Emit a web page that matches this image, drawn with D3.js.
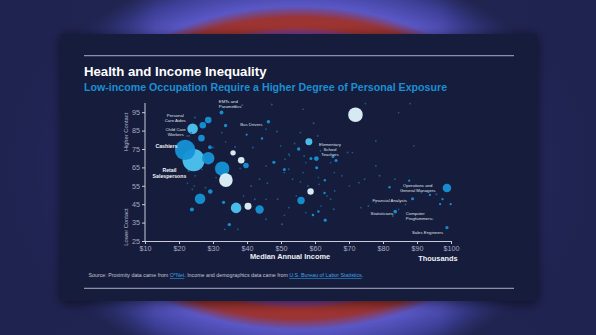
<!DOCTYPE html>
<html><head><meta charset="utf-8">
<script src="https://cdn.jsdelivr.net/npm/d3@7"></script>
<style>html,body{margin:0;padding:0;background:#1f2352;overflow:hidden}svg{display:block}</style>
</head><body>
<script>
// ---------- data ----------
const income = [21.8,24.3,28.6,32.7,33.8,71.9,24.0,28.6,27.0,26.6,32.5,33.7,29.1,35.9,38.3,39.7,26.2,29.2,23.8,36.8,40.3,43.7,34.8,33.1,46.3,58.2,55.2,60.4,58.8,60.5,47.9,51.0,65.3,66.2,58.7,55.9,98.8,88.7,83.6,98.8,81.9,62.9,62.8,63.0,59.4,61.0,44.4,39.9,87.7,93.8,97.5,99.9,96.8,
 24.7,23.0,22.4,23.6,22.8,22.5,23.9,24.5,32.6,36.5,33.7,30.0,30.9,27.8,26.7,24.8,38.6,36.2,41.7,45.6,48.8,49.9,51.2,52.3,54.0,55.7,56.5,59.6,60.8,61.6,56.8,57.3,56.5,55.7,52.3,53.4,51.0,45.6,46.0,43.7,41.2,39.0,42.3,45.6,49.0,51.0,50.3,54.5,57.9,61.0,61.2,63.5,64.6,65.5,61.8,52.3,57.3,64.6,65.7,67.9,70.1,72.9,74.6,77.9,79.0,83.5,84.6,88.0,74.8,47.3,91.3,95.7,86.6,84.6,82.9,89.6,94.6,73.5,75.7,77.9,69.6,71.0,77.9,89.1,37.3,33.4,45.6,52.5,38.0,65.8];
const contact = [74.5,69.0,70.0,64.3,58.1,93.6,86.0,90.7,87.9,80.9,94.8,87.8,76.0,72.9,68.9,66.0,48.0,51.9,42.1,43.0,43.9,42.1,33.9,46.0,89.8,79.0,75.0,69.8,69.8,64.8,67.8,63.8,70.9,68.8,51.9,47.0,53.8,48.0,41.0,32.3,54.2,58.0,51.1,36.3,39.1,41.0,80.7,82.8,57.8,50.0,47.7,45.0,45.0,
 92.1,82.1,82.1,83.9,63.1,56.4,53.1,54.9,83.9,76.1,78.9,75.8,59.5,54.0,64.0,60.4,98.8,98.4,75.8,85.8,84.5,76.7,69.4,72.2,78.0,83.9,96.6,89.0,82.1,74.0,71.2,67.6,62.2,57.1,64.0,58.6,62.2,65.8,56.4,58.6,54.9,49.5,47.7,47.7,47.7,39.0,34.1,49.5,54.9,59.5,55.8,49.5,47.7,42.2,44.0,43.1,40.4,67.6,62.2,60.4,54.9,56.7,58.6,65.8,60.4,58.6,94.8,99.7,99.7,99.2,51.3,50.4,44.9,42.2,38.6,37.7,36.8,43.1,44.0,45.9,73.1,73.1,79.4,76.7,31.3,31.3,36.8,71.4,64.5,52.2];
// employment, thousands
const workers = [3700,4400,1360,1835,1640,1890,994,385,385,385,142,100,120,258,385,277,994,187,142,994,434,624,102,90,110,434,100,200,80,90,90,80,80,80,360,485,655,80,120,90,50,50,50,90,60,60,50,40,45,45,45,45,45,
 35,30,25,30,35,25,30,25,35,30,25,30,25,30,25,30,35,25,30,25,30,25,30,25,30,35,25,35,30,25,30,25,30,25,30,25,30,25,30,25,30,25,30,25,30,25,35,25,30,25,30,25,30,35,25,30,25,30,25,30,25,30,25,30,35,30,25,30,25,30,25,35,30,25,30,25,30,25,30,25,30,25,30,25,30,25,30,25,25,30];
// colour group: 0 faint, 1 blue, 2 light blue, 3 pale
const shade = [1,2,1,1,3,3,2,1,1,1,1,1,1,3,3,1,1,1,1,2,3,1,1,1,1,2,1,1,1,1,1,1,1,1,3,1,1,1,1,1,1,1,1,1,1,1,1,1,1,1,1,1,1,
 0,0,0,0,0,0,0,0,0,0,0,0,0,0,0,0,0,0,0,0,0,0,0,0,0,0,0,0,0,0,0,0,0,0,0,0,0,0,0,0,0,0,0,0,0,0,0,0,0,0,0,0,0,0,0,0,0,0,0,0,0,0,0,0,0,0,0,0,0,0,0,0,0,0,0,0,0,0,0,0,0,0,0,0,0,0,0,0,0,0];

const labelText   = [["EMTs and","Paramedics"],["Personal","Care Aides"],["Child Care","Workers"],["Cashiers"],["Retail","Salespersons"],["Bus Drivers"],["Elementary","School","Teachers"],["Operations and","General Managers"],["Financial Analysts"],["Statisticians"],["Computer","Programmers"],["Sales Engineers"]];
const labelIncome = [31.7,18.9,19.0,16.3,17.2,38.0,64.4,90.2,87.0,83.1,86.7,88.5];
const labelContact= [100.8,93.2,85.8,76.7,63.6,88.1,77.4,55.1,46.8,39.9,40.1,29.7];
const labelAnchor = ["start","middle","middle","middle","middle","start","middle","middle","end","end","start","start"];
const labelBold   = [0,0,0,1,1,0,0,0,0,0,0,0];

const xTicks = [10,20,30,40,50,60,70,80,90,100];
const yTicks = [25,35,45,55,65,75,85,95];

// ---------- drawing ----------
const W=596,H=335;
const svg=d3.select("body").append("svg").attr("width",W).attr("height",H);
const defs=svg.append("defs");
const g=defs.append("radialGradient").attr("id","glow").attr("gradientUnits","userSpaceOnUse")
  .attr("cx",298).attr("cy",168).attr("r",205)
  .attr("gradientTransform","translate(298,168) scale(1.46,1) translate(-298,-168)");
[[0,"#5a4fd6"],[0.6,"#5b4dd2"],[0.655,"#7a3d96"],[0.69,"#a1342f"],[0.735,"#9a3436"],[0.79,"#5a57c6"],[0.9,"#3c3f96"],[1,"#21254f"]]
 .forEach(s=>g.append("stop").attr("offset",s[0]).attr("stop-color",s[1]));
const side=defs.append("linearGradient").attr("id","side").attr("x1",0).attr("x2",1).attr("y1",0).attr("y2",0);
[[0,1],[0.12,0.92],[0.26,0],[0.74,0],[0.88,0.92],[1,1]]
 .forEach(s=>side.append("stop").attr("offset",s[0]).attr("stop-color","#1f2350").attr("stop-opacity",s[1]));
const f=defs.append("filter").attr("id","shadow").attr("x","-10%").attr("y","-10%").attr("width","120%").attr("height","120%");
f.append("feGaussianBlur").attr("in","SourceAlpha").attr("stdDeviation",6);
f.append("feOffset").attr("dy",2).attr("result","b");
f.append("feComponentTransfer").append("feFuncA").attr("type","linear").attr("slope",0.6);
const m=f.append("feMerge"); m.append("feMergeNode"); m.append("feMergeNode").attr("in","SourceGraphic");

svg.append("rect").attr("width",W).attr("height",H).attr("fill","#21254f");
svg.append("rect").attr("width",W).attr("height",H).attr("fill","url(#glow)");
svg.append("rect").attr("width",W).attr("height",H).attr("fill","url(#side)");
svg.append("rect").attr("x",61).attr("y",34).attr("width",476).attr("height",267).attr("fill","#141a3b").attr("filter","url(#shadow)");

svg.append("line").attr("x1",84).attr("x2",514).attr("y1",55.7).attr("y2",55.7).attr("stroke","#8d91a8").attr("stroke-width",1.3);
svg.append("line").attr("x1",84).attr("x2",514).attr("y1",288.3).attr("y2",288.3).attr("stroke","#8d91a8").attr("stroke-width",1.3);

const font="'Liberation Sans', Arial, Helvetica, sans-serif";
svg.append("text").attr("x",84).attr("y",75.5).attr("fill","#ffffff").attr("font-family",font).attr("font-weight","bold").attr("font-size",13.2).text("Health and Income Inequality");
svg.append("text").attr("x",84).attr("y",91).attr("fill","#1b8fd3").attr("font-family",font).attr("font-weight","bold").attr("font-size",10.65).text("Low-income Occupation Require a Higher Degree of Personal Exposure");

const x=d3.scaleLinear().domain([10,100]).range([145,451]);
const y=d3.scaleLinear().domain([25,100]).range([241,103]);
const r=d3.scaleSqrt().domain([0,4300]).range([0,11]);
const color=d3.scaleOrdinal().domain([0,1,2,3]).range(["#1a6aa8","#1592d6","#4dc5f2","#e2f5fe"]);

const xa=svg.append("g").attr("transform","translate(0,241)")
 .call(d3.axisBottom(x).tickValues(xTicks).tickFormat(d=>"$"+d).tickSize(3).tickPadding(2));
const ya=svg.append("g").attr("transform","translate(145,0)")
 .call(d3.axisLeft(y).tickValues(yTicks).tickSize(3).tickPadding(2));
[xa,ya].forEach(a=>{
  a.select(".domain").attr("stroke","#c9ccd8").attr("stroke-width",1);
  a.selectAll(".tick line").attr("stroke","#c9ccd8");
  a.selectAll(".tick text").attr("fill","#a7abc0").attr("font-family",font).attr("font-size",7.2);
});
ya.select(".domain").attr("d","M-0,241V103");

svg.append("text").attr("transform","translate(128,132) rotate(-90)").attr("text-anchor","middle").attr("fill","#b4b8cb").attr("font-family",font).attr("font-size",5.8).text("Higher Contact");
svg.append("text").attr("transform","translate(128,227) rotate(-90)").attr("text-anchor","middle").attr("fill","#b4b8cb").attr("font-family",font).attr("font-size",5.8).text("Lower Contact");
svg.append("text").attr("x",290).attr("y",259).attr("text-anchor","middle").attr("fill","#eef0f6").attr("font-family",font).attr("font-weight","bold").attr("font-size",7.4).text("Median Annual Income");
svg.append("text").attr("x",438).attr("y",261).attr("text-anchor","middle").attr("fill","#eef0f6").attr("font-family",font).attr("font-weight","bold").attr("font-size",7.4).text("Thousands");

const idx=d3.range(income.length).sort((a,b)=>workers[b]-workers[a]);
svg.append("g").selectAll("circle").data(idx).join("circle")
 .attr("cx",i=>x(income[i])).attr("cy",i=>y(contact[i])).attr("r",i=>r(workers[i]))
 .attr("fill",i=>color(shade[i])).attr("fill-opacity",i=>shade[i]===0?0.8:0.95);

const lg=svg.append("g").attr("font-family",font);
labelText.forEach((lines,i)=>{
  const bold=labelBold[i]===1, fs=bold?5.2:4.3, lh=bold?5.8:5.1;
  const t=lg.append("text").attr("x",x(labelIncome[i])).attr("y",y(labelContact[i])+fs*0.36)
    .attr("text-anchor",labelAnchor[i]).attr("fill",bold?"#f2f4f8":"#dfe2ea")
    .attr("font-weight",bold?"bold":"normal").attr("font-size",fs);
  lines.forEach((s,k)=>t.append("tspan").attr("x",x(labelIncome[i])).attr("dy",k?lh:0).text(s));
});

const src=svg.append("text").attr("x",88.5).attr("y",277).attr("fill","#c3c6d4").attr("font-family",font).attr("font-size",5.3);
src.append("tspan").text("Source: Proximity data came from ");
src.append("tspan").attr("fill","#3fa3e6").attr("text-decoration","underline").text("O*Net");
src.append("tspan").text(". Income and demographics data came from ");
src.append("tspan").attr("fill","#3fa3e6").attr("text-decoration","underline").text("U.S. Bureau of Labor Statistics");
src.append("tspan").text(".");
</script>
</body></html>
